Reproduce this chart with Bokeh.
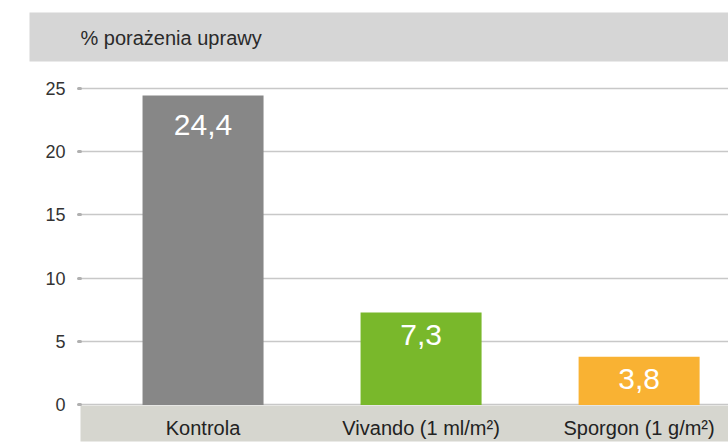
import numpy as np
from bokeh.plotting import figure
from bokeh.models import Range1d, FixedTicker, ColumnDataSource
from bokeh.core.properties import value
from bokeh.embed import file_html
from bokeh.resources import INLINE

# ---- data ----
categories = ["Kontrola", "Vivando (1 ml/m²)", "Sporgon (1 g/m²)"]
values = [24.4, 7.3, 3.8]
bar_colors = ["#878787", "#79b82b", "#f9b233"]
y_ticks = [0, 5, 10, 15, 20, 25]
title_text = "% porażenia uprawy"

FONT = "Liberation Sans"

xs = list(range(len(categories)))
p = figure(width=728, height=446, output_backend="svg", toolbar_location=None,
           x_range=Range1d(-0.562, 2.410), y_range=Range1d(-0.04, 27.09),
           min_border_left=80, min_border_right=0, min_border_top=61, min_border_bottom=41)
p.outline_line_color = None
p.background_fill_color = "white"
p.border_fill_color = "white"

# title with a grey band behind it (band extends left of the frame)
t = p.title
t.text = title_text
t.align = "left"
t.vertical_align = "bottom"
t.offset = -51
t.standoff = 0
t.text_font = FONT
t.text_font_size = "20px"
t.text_font_style = "normal"
t.text_color = "#2a2a2a"
t.background_fill_color = "#d6d6d6"
t.background_fill_alpha = 1.0
t.border_line_color = None
t.padding = dict(left=51, right=700, top=14, bottom=13)

src = ColumnDataSource(dict(x=xs, top=values, color=bar_colors,
                            label=[f"{v:.1f}".replace(".", ",") for v in values],
                            ly=0.97 * np.array(values) - 1.6))
p.vbar(x="x", top="top", bottom=0, width=0.555, fill_color="color", line_color=None, source=src)
p.text(x="x", y="ly", text="label", source=src, text_align="center", text_baseline="middle",
       text_color="white", text_font=value(FONT), text_font_size=value("30px"))

p.xgrid.grid_line_color = None
p.ygrid.grid_line_color = "#c8c8c8"
p.ygrid.grid_line_width = 1.5
p.ygrid.ticker = FixedTicker(ticks=y_ticks)

ya = p.yaxis[0]
ya.ticker = FixedTicker(ticks=y_ticks)
ya.axis_line_color = None
ya.major_tick_in = 0
ya.major_tick_out = 2
ya.minor_tick_out = 0
ya.minor_tick_in = 0
ya.major_tick_line_color = "#b0b0b0"
ya.major_tick_line_width = 3
ya.major_tick_line_cap = "round"
ya.major_label_standoff = 13
ya.major_label_text_font = FONT
ya.major_label_text_font_size = "18px"
ya.major_label_text_color = "#333333"

xa = p.xaxis[0]
xa.ticker = FixedTicker(ticks=xs)
xa.major_label_overrides = {i: c for i, c in zip(xs, categories)}
xa.axis_line_color = None
xa.major_tick_line_color = None
xa.minor_tick_line_color = None
xa.major_tick_out = 0
xa.major_tick_in = 0
xa.major_label_standoff = 11
xa.major_label_text_font = FONT
xa.major_label_text_font_size = "20px"
xa.major_label_text_color = "#222222"
xa.background_fill_color = "#d6d6cf"

open("out.html", "w").write(file_html(p, INLINE))
